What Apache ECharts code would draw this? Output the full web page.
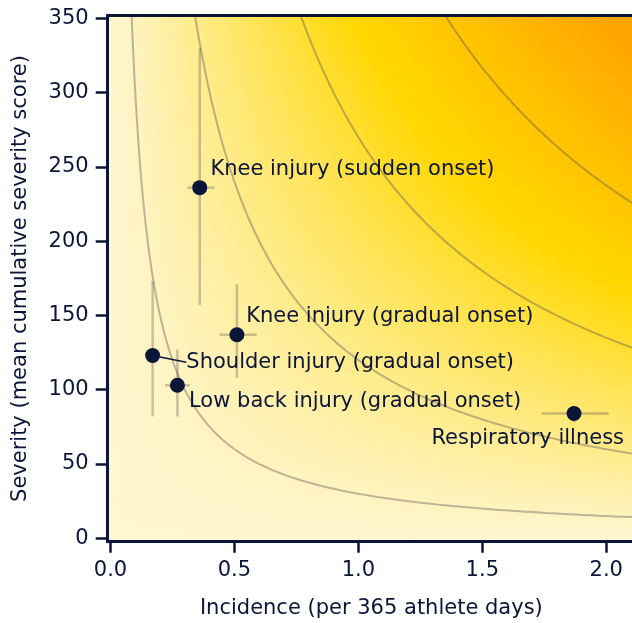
<!DOCTYPE html>
<html><head><meta charset="utf-8">
<script src="https://cdn.jsdelivr.net/npm/echarts@6/dist/echarts.min.js"></script>
<style>html,body{margin:0;padding:0;background:#fff}#c{width:632px;height:623px}</style>
</head><body><div id="c"></div>
<script>
// ---- data ----
const categories = ['Knee injury (sudden onset)', 'Knee injury (gradual onset)', 'Shoulder injury (gradual onset)', 'Low back injury (gradual onset)', 'Respiratory illness'];
const incidence     = [0.36, 0.51, 0.17, 0.27, 1.87];
const incidenceLow  = [0.31, 0.44, 0.15, 0.22, 1.74];
const incidenceHigh = [0.42, 0.59, 0.20, 0.32, 2.01];
const severity      = [236, 137, 123, 103, 84];
const severityLow   = [157, 108, 82, 82, 78];
const severityHigh  = [330, 171, 173, 127, 89];
const riskLevels = [30, 120, 270, 475];          // iso-burden curves (incidence x severity)
const xTicks = [0, 0.5, 1.0, 1.5, 2.0];
const yTicks = [0, 50, 100, 150, 200, 250, 300, 350];

// ---- layout / style ----
const NAVY = '#0b1537';
const FONT = 'DejaVu Sans';
const X_MIN = -0.0113, X_MAX = 2.116, Y_MIN = -2.3, Y_MAX = 352;

// background burden field (incidence x severity) on a fine grid
const cellW = 0.01, cellH = 2;
const field = [];
for (let x = X_MIN; x < X_MAX + cellW; x += cellW) {
  for (let y = Y_MIN; y < Y_MAX + cellH; y += cellH) {
    const xc = x + cellW / 2, yc = y + cellH / 2;
    field.push([xc, yc, Math.max(0, xc * yc)]);
  }
}

// iso-burden curves
const contourSeries = riskLevels.map(c => {
  const pts = [];
  const x0 = c / (Y_MAX + 5), x1 = X_MAX + 0.02, n = 200;
  for (let i = 0; i <= n; i++) {
    const x = Math.exp(Math.log(x0) + (Math.log(x1) - Math.log(x0)) * i / n);
    pts.push([x, c / x]);
  }
  return {
    type: 'line', data: pts, symbol: 'none', silent: true, z: 2,
    lineStyle: { color: 'rgba(80,80,80,0.38)', width: 2 }, clip: true
  };
});

const errData = categories.map((n, i) => [incidence[i], severity[i], incidenceLow[i], incidenceHigh[i], severityLow[i], severityHigh[i]]);

const labelCfg = [
  { position: 'inside', align: 'left', offset: [10.7, -17.8] },
  { position: 'inside', align: 'left', offset: [9.3, -18] },
  { position: 'inside', align: 'left', offset: [33.7, 6.8] },
  { position: 'inside', align: 'left', offset: [11.6, 15.8] },
  { position: 'inside', align: 'right', offset: [50, 24.9] }
];

const pointData = categories.map((n, i) => {
  const item = {
    name: n, value: [incidence[i], severity[i]],
    label: Object.assign({ show: true, formatter: '{b}', verticalAlign: 'middle', color: NAVY, fontSize: 21, fontFamily: FONT }, labelCfg[i])
  };
  if (i === 2) item.labelLine = { show: true, lineStyle: { color: NAVY, width: 1.5, opacity: 1 } };
  return item;
});

const chart = echarts.init(document.getElementById('c'));
chart.setOption({
  animation: false,
  backgroundColor: '#fff',
  textStyle: { fontFamily: FONT },
  grid: { left: 107.7, top: 15.3, right: -3, bottom: 81.3, outerBoundsMode: 'none', containLabel: false },
  visualMap: {
    show: false, type: 'continuous', seriesIndex: 0, dimension: 2,
    min: 0, max: 700, inRange: { color: ['#FFF6D2', '#FFD700', '#FFA500'] }
  },
  xAxis: [{
    type: 'value', min: X_MIN, max: X_MAX, z: 10,
    name: 'Incidence (per 365 athlete days)', nameLocation: 'middle', nameGap: 56,
    nameTextStyle: { color: NAVY, fontSize: 21, fontFamily: FONT },
    axisLine: { show: true, onZero: false, lineStyle: { color: NAVY, width: 3 } },
    axisTick: { show: true, customValues: xTicks, length: 11, lineStyle: { color: NAVY, width: 2.5 } },
    axisLabel: { customValues: xTicks, formatter: v => v.toFixed(1), color: NAVY, fontSize: 21, fontFamily: FONT, margin: 18 },
    splitLine: { show: false }
  }, {
    type: 'value', position: 'top', min: X_MIN, max: X_MAX, z: 10,
    axisLine: { show: true, onZero: false, lineStyle: { color: NAVY, width: 3 } },
    axisTick: { show: false }, axisLabel: { show: false }, splitLine: { show: false }
  }],
  yAxis: {
    type: 'value', min: Y_MIN, max: Y_MAX, z: 10,
    name: 'Severity (mean cumulative severity score)', nameLocation: 'middle', nameGap: 77,
    nameTextStyle: { color: NAVY, fontSize: 21, fontFamily: FONT },
    axisLine: { show: true, onZero: false, lineStyle: { color: NAVY, width: 3 } },
    axisTick: { show: true, customValues: yTicks, length: 12, lineStyle: { color: NAVY, width: 2.5 } },
    axisLabel: { customValues: yTicks, formatter: v => String(v), color: NAVY, fontSize: 21, fontFamily: FONT, margin: 19 },
    splitLine: { show: false }
  },
  series: [
    {
      type: 'custom', data: field, z: 1, silent: true, clip: true,
      progressive: 0, progressiveThreshold: 1e9,
      encode: { x: 0, y: 1 },
      renderItem: (params, api) => {
        const xc = api.value(0), yc = api.value(1);
        const p1 = api.coord([xc - cellW / 2, yc + cellH / 2]);
        const p2 = api.coord([xc + cellW / 2, yc - cellH / 2]);
        return { type: 'rect', shape: { x: p1[0], y: p1[1], width: p2[0] - p1[0] + 0.7, height: p2[1] - p1[1] + 0.7 }, style: { fill: api.visual('color') } };
      }
    },
    ...contourSeries,
    {
      type: 'custom', data: errData, z: 3, silent: true,
      encode: { x: 0, y: 1 },
      renderItem: (params, api) => {
        const x = api.value(0), y = api.value(1);
        const a = api.coord([api.value(2), y]), b = api.coord([api.value(3), y]);
        const c = api.coord([x, api.value(4)]), d = api.coord([x, api.value(5)]);
        const st = { stroke: 'rgba(80,80,80,0.32)', lineWidth: 2.5 };
        return { type: 'group', children: [
          { type: 'line', shape: { x1: a[0], y1: a[1], x2: b[0], y2: b[1] }, style: st },
          { type: 'line', shape: { x1: c[0], y1: c[1], x2: d[0], y2: d[1] }, style: st }
        ] };
      }
    },
    {
      type: 'scatter', data: pointData, z: 4, symbolSize: 15,
      itemStyle: { color: NAVY, opacity: 1 },
      labelLine: { show: false },
      emphasis: { disabled: true }
    }
  ]
});
</script>
</body></html>
